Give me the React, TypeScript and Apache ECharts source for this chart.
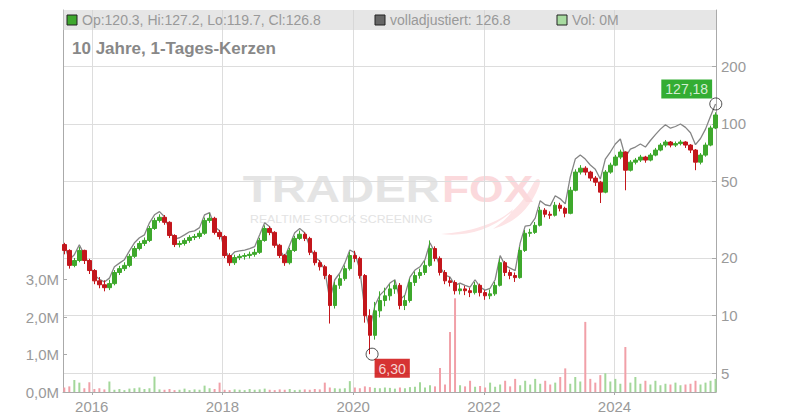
import React, { useEffect, useRef } from "react";
import * as echarts from "echarts";

// time axis: one candle per 28 days, starting mid 2015
const START_YEAR = 2015.58;
const STEP_YEARS = 28 / 365.25;
const X_MIN = 2015.56;
const X_MAX = 2025.553;

// [open, close, low, high]
const candles: number[][] = [
  [23.5, 21.9, 20.9, 24.0], [21.9, 18.3, 17.6, 22.2], [18.3, 19.4, 17.9, 20.0], [19.4, 21.9, 19.0, 22.8],
  [21.9, 19.4, 18.6, 22.1], [19.4, 17.2, 16.5, 19.8], [17.2, 15.2, 14.6, 17.5], [15.2, 14.5, 13.9, 15.9],
  [14.5, 14.0, 13.4, 15.3], [14.0, 14.7, 13.6, 15.4], [14.7, 16.8, 14.4, 17.3], [16.8, 17.6, 16.3, 18.2],
  [17.6, 18.3, 17.1, 19.0], [18.3, 20.4, 17.9, 21.0], [20.4, 22.4, 20.0, 23.1], [22.4, 23.8, 21.9, 24.5],
  [23.8, 24.7, 23.1, 25.6], [24.7, 28.5, 24.2, 29.4], [28.5, 31.4, 28.0, 32.4], [31.4, 32.6, 30.6, 33.8],
  [32.6, 30.7, 29.8, 33.5], [30.7, 26.2, 25.4, 31.1], [26.2, 23.5, 22.8, 26.6], [23.5, 23.8, 22.7, 24.6],
  [23.8, 24.7, 23.2, 25.4], [24.7, 25.6, 24.0, 26.3], [25.6, 25.9, 24.8, 26.7], [25.9, 26.9, 25.2, 27.8],
  [26.9, 31.4, 26.4, 32.5], [31.4, 32.2, 30.5, 34.2], [32.2, 27.2, 26.5, 32.8], [27.2, 25.9, 25.0, 28.0],
  [25.9, 20.6, 20.0, 26.3], [20.6, 18.9, 18.2, 21.2], [18.9, 20.1, 18.4, 20.8], [20.1, 20.4, 19.5, 21.0],
  [20.4, 20.6, 19.6, 21.2], [20.6, 20.9, 19.9, 21.6], [20.9, 21.4, 20.3, 22.3], [21.4, 24.7, 21.0, 25.5],
  [24.7, 28.5, 24.3, 29.6], [28.5, 27.2, 26.3, 29.2], [27.2, 23.3, 22.6, 27.6], [23.3, 20.6, 20.0, 23.7],
  [20.6, 18.9, 18.2, 21.0], [18.9, 21.9, 18.5, 22.6], [21.9, 25.3, 21.5, 26.1], [25.3, 26.6, 24.8, 27.8],
  [26.6, 25.3, 24.5, 27.2], [25.3, 21.4, 20.7, 25.8], [21.4, 18.9, 18.3, 21.9], [18.9, 18.0, 17.2, 19.5],
  [18.0, 16.2, 15.5, 18.4], [16.2, 11.3, 9.1, 16.5], [11.3, 14.4, 10.9, 15.0], [14.4, 15.6, 13.8, 16.4],
  [15.6, 17.6, 15.2, 18.3], [17.6, 20.6, 17.2, 21.5], [20.6, 19.9, 19.0, 21.8], [19.9, 16.2, 15.6, 20.3],
  [16.2, 10.0, 9.2, 16.5], [10.0, 7.9, 6.3, 10.8], [7.9, 10.6, 7.5, 11.8], [10.6, 12.0, 9.8, 13.4],
  [12.0, 12.7, 11.2, 14.0], [12.7, 13.8, 12.0, 14.6], [13.8, 14.4, 13.0, 15.3], [14.4, 11.3, 10.8, 14.8],
  [11.3, 12.0, 10.7, 12.8], [12.0, 14.9, 11.7, 15.6], [14.9, 16.2, 14.3, 17.0], [16.2, 16.8, 15.6, 17.6],
  [16.8, 18.3, 16.3, 19.3], [18.3, 22.4, 18.0, 24.7], [22.4, 19.9, 19.2, 23.0], [19.9, 16.8, 16.2, 20.4],
  [16.8, 15.2, 14.6, 17.3], [15.2, 14.9, 14.2, 15.9], [14.9, 13.5, 12.9, 15.3], [13.5, 13.8, 12.9, 14.6],
  [13.8, 13.5, 12.8, 14.3], [13.5, 13.2, 12.5, 14.0], [13.2, 14.4, 12.9, 15.0], [14.4, 13.2, 12.6, 14.7],
  [13.2, 12.7, 12.1, 13.6], [12.7, 13.0, 12.2, 13.7], [13.0, 14.4, 12.7, 15.0], [14.4, 18.9, 14.2, 19.9],
  [18.9, 16.8, 16.1, 19.3], [16.8, 16.2, 15.5, 17.4], [16.2, 15.8, 15.0, 16.8], [15.8, 21.9, 15.6, 22.8],
  [21.9, 26.9, 21.5, 28.0], [26.9, 27.2, 25.8, 28.4], [27.2, 29.6, 26.7, 30.8], [29.6, 35.5, 29.2, 37.0],
  [35.5, 33.8, 32.6, 36.4], [33.8, 33.4, 32.0, 35.0], [33.4, 37.7, 32.9, 39.2], [37.7, 36.3, 35.0, 38.8],
  [36.3, 34.2, 32.6, 37.0], [34.2, 45.1, 33.8, 47.0], [45.1, 56.1, 44.5, 58.0], [56.1, 58.8, 54.5, 61.0],
  [58.8, 56.1, 54.0, 60.2], [56.1, 52.2, 50.4, 57.0], [52.2, 49.7, 47.5, 53.5], [49.7, 44.1, 38.7, 50.5],
  [44.1, 56.1, 43.5, 57.5], [56.1, 61.0, 55.0, 62.8], [61.0, 67.2, 60.2, 69.0], [67.2, 71.4, 65.5, 73.5],
  [71.4, 57.4, 45.1, 72.0], [57.4, 63.2, 56.5, 64.8], [63.2, 64.8, 61.5, 66.5], [64.8, 67.2, 63.3, 69.0],
  [67.2, 64.8, 62.8, 68.2], [64.8, 68.8, 63.8, 70.5], [68.8, 73.1, 67.8, 75.0], [73.1, 77.6, 72.0, 79.5],
  [77.6, 80.5, 75.6, 82.5], [80.5, 77.6, 75.5, 81.5], [77.6, 79.0, 75.8, 81.0], [79.0, 80.5, 77.3, 82.6],
  [80.5, 77.6, 75.0, 81.3], [77.6, 73.1, 70.5, 78.5], [73.1, 63.2, 57.4, 74.0], [63.2, 68.8, 61.5, 70.5],
  [68.8, 77.6, 67.5, 80.0], [77.6, 95.3, 76.5, 98.0], [95.3, 111.4, 94.0, 115.0],
];

// fully adjusted close ("volladjustiert")
const adjusted: number[] = [
  23.4, 19.6, 20.8, 23.4, 20.8, 18.4, 16.3, 15.5, 15.0, 15.7,
  18.0, 18.8, 19.6, 21.8, 24.0, 25.5, 26.4, 30.5, 33.6, 34.9,
  32.8, 28.0, 25.1, 25.5, 26.4, 27.4, 27.7, 28.8, 33.6, 34.5,
  29.1, 27.7, 22.0, 20.2, 21.5, 21.8, 22.0, 22.4, 22.9, 26.4,
  30.5, 29.1, 24.9, 22.0, 20.2, 23.4, 27.1, 28.5, 27.1, 22.9,
  20.2, 19.3, 17.3, 12.1, 15.4, 16.7, 18.8, 22.0, 21.3, 17.3,
  10.7, 8.5, 11.3, 12.8, 13.6, 14.8, 15.4, 12.1, 12.8, 15.9,
  17.3, 18.0, 19.6, 24.0, 21.3, 18.0, 16.3, 15.9, 14.4, 14.8,
  14.4, 14.1, 15.4, 14.1, 13.6, 13.9, 15.4, 20.6, 18.3, 17.7,
  17.2, 23.9, 29.3, 29.6, 32.3, 39.8, 37.9, 37.4, 42.2, 40.7,
  38.3, 52.8, 65.6, 68.8, 65.6, 61.1, 58.1, 51.6, 65.6, 71.4,
  78.6, 83.5, 67.2, 73.9, 75.8, 78.6, 75.8, 82.0, 88.0, 94.0,
  99.0, 95.0, 97.0, 100.0, 96.0, 90.0, 78.0, 84.0, 94.0, 109.6,
  127.2,
];

// volume in millions
const volumeM: number[] = [
  0.12, 0.15, 0.32, 0.25, 0.1, 0.26, 0.08, 0.1, 0.07, 0.28,
  0.06, 0.08, 0.05, 0.09, 0.1, 0.12, 0.08, 0.1, 0.41, 0.07,
  0.06, 0.08, 0.05, 0.06, 0.09, 0.05, 0.07, 0.06, 0.17, 0.1,
  0.08, 0.25, 0.06, 0.05, 0.07, 0.06, 0.05, 0.08, 0.06, 0.07,
  0.09, 0.06, 0.05, 0.07, 0.06, 0.08, 0.05, 0.06, 0.07, 0.06,
  0.08, 0.07, 0.25, 0.12, 0.1, 0.09, 0.1, 0.29, 0.12, 0.1,
  0.15, 0.13, 0.11, 0.1, 0.12, 0.11, 0.09, 0.12, 0.1, 0.13,
  0.14, 0.26, 0.12, 0.18, 0.15, 0.64, 0.2, 1.6, 2.5, 0.18,
  0.15, 0.3, 0.14, 0.16, 0.12, 0.25, 0.14, 0.2, 0.3, 0.15,
  0.35, 0.18, 0.3, 0.2, 0.35, 0.22, 0.3, 0.2, 0.25, 0.4,
  0.63, 0.22, 0.4, 0.28, 1.87, 0.35, 0.25, 0.45, 0.5, 0.28,
  0.35, 0.22, 1.2, 0.25, 0.4, 0.22, 0.3, 0.2, 0.3, 0.18,
  0.22, 0.2, 0.25, 0.18, 0.2, 0.22, 0.3, 0.2, 0.25, 0.3,
  0.35,
];

const yearTicks = [2016, 2018, 2020, 2022, 2024];
const priceTicks = [5, 10, 20, 50, 100, 200];
const volumeTicks = [0, 1e6, 2e6, 3e6];
const lowPoint = { t: 2020.29, v: 6.3, label: "6,30" };
const highPoint = { t: 2025.55, v: 127.18, label: "127,18" };
const legendTexts = [
  "Op:120.3, Hi:127.2, Lo:119.7, Cl:126.8",
  "volladjustiert: 126.8",
  "Vol: 0M",
];
const titleText = "10 Jahre, 1-Tages-Kerzen";

const UP = "#3ea82c";
const DOWN = "#c3161c";
const FONT = "'Liberation Sans', Arial, sans-serif";

let shapeRegistered = false;
function registerShapes() {
  if (shapeRegistered) return;
  shapeRegistered = true;
  echarts.graphic.registerShape(
    "foxtail",
    echarts.graphic.extendPath(
      "M0,58 C30,62 70,50 92,8 C96,0 101,2 98,10 C88,36 70,48 52,53 C64,45 70,38 72,33 C58,47 30,56 0,58 Z",
      {}
    )
  );
}

export default function App() {
  const ref = useRef<HTMLDivElement>(null);

  useEffect(() => {
    document.body.style.margin = "0";
    if (!ref.current) return;
    registerShapes();
    const chart = echarts.init(ref.current, undefined, { renderer: "svg" });

    const times = candles.map((_, i) => START_YEAR + i * STEP_YEARS);
    const candleData = candles.map((c, i) => [times[i], c[0], c[1], c[2], c[3]]);
    const adjData = adjusted.map((v, i) => [times[i], v]);
    const volData = volumeM.map((v, i) => ({
      value: [times[i], v * 1e6],
      itemStyle: { color: candles[i][1] >= candles[i][0] ? "#a3d79a" : "#f1a0a8" },
    }));

    const axisColor = "#aaaaaa";
    const labelColor = "#9a9a9a";

    chart.setOption({
      animation: false,
      backgroundColor: "#ffffff",
      textStyle: { fontFamily: FONT },
      grid: { left: 63, right: 84, top: 10, bottom: 28, containLabel: false },
      xAxis: {
        type: "value",
        min: X_MIN,
        max: X_MAX,
        axisLine: { show: true, lineStyle: { color: axisColor } },
        axisTick: { show: true, length: 3, customValues: yearTicks, lineStyle: { color: axisColor } },
        axisLabel: {
          customValues: yearTicks,
          formatter: (v: number) => String(Math.round(v)),
          color: labelColor,
          fontSize: 15,
          margin: 7,
          fontFamily: FONT,
        },
        splitLine: { show: true, lineStyle: { color: "#dddddd", width: 1 } },
      },
      yAxis: [
        {
          type: "value",
          position: "left",
          min: 0,
          max: 10.19e6,
          axisLine: { show: true, lineStyle: { color: axisColor } },
          axisTick: { show: true, inside: true, length: 4, customValues: volumeTicks, lineStyle: { color: axisColor } },
          axisLabel: {
            customValues: volumeTicks,
            formatter: (v: number) => (v / 1e6).toFixed(1).replace(".", ",") + "M",
            color: labelColor,
            fontSize: 15,
            margin: 4,
            fontFamily: FONT,
          },
          splitLine: { show: false },
        },
        {
          type: "log",
          logBase: 10,
          position: "right",
          min: 4,
          max: 393,
          axisLine: { show: true, lineStyle: { color: axisColor } },
          axisTick: { show: true, inside: true, length: 4, customValues: priceTicks, lineStyle: { color: axisColor } },
          axisLabel: {
            customValues: priceTicks,
            formatter: (v: number) => String(Math.round(v)),
            color: labelColor,
            fontSize: 15,
            margin: 5,
            fontFamily: FONT,
          },
          splitLine: { show: true, lineStyle: { color: "#dddddd", width: 1 } },
        },
      ],
      graphic: [
        // watermark
        {
          type: "text",
          x: 440,
          y: 189,
          scaleX: 1.28,
          z: 0,
          silent: true,
          style: {
            text: "TRADER",
            fill: "#e4e4e4",
            font: `bold 37px ${FONT}`,
            textAlign: "right",
            textVerticalAlign: "middle",
          },
        },
        {
          type: "foxtail",
          x: 441,
          y: 176,
          scaleX: 1,
          scaleY: 1,
          z: 0,
          silent: true,
          style: { fill: "#fde3e5" },
        },
        {
          type: "text",
          x: 442,
          y: 189,
          scaleX: 1.2,
          z: 0,
          silent: true,
          style: {
            text: "FOX",
            fill: "#fbd9dc",
            font: `bold 37px ${FONT}`,
            textAlign: "left",
            textVerticalAlign: "middle",
          },
        },
        {
          type: "text",
          x: 250,
          y: 219,
          scaleX: 1.12,
          z: 0,
          silent: true,
          style: {
            text: "REALTIME STOCK SCREENING",
            fill: "#e3e3e3",
            font: `11px ${FONT}`,
            textAlign: "left",
            textVerticalAlign: "middle",
          },
        },
        // legend band
        {
          type: "rect",
          z: 100,
          silent: true,
          shape: { x: 63, y: 10, width: 653, height: 20 },
          style: { fill: "rgba(210,210,210,0.55)" },
        },
        {
          type: "rect",
          z: 101,
          shape: { x: 67, y: 15, width: 10, height: 10 },
          style: { fill: "#3fa82e", stroke: "#222", lineWidth: 1 },
        },
        {
          type: "text",
          z: 101,
          x: 82,
          y: 20,
          style: { text: legendTexts[0], fill: "#999999", font: `14px ${FONT}`, textVerticalAlign: "middle" },
        },
        {
          type: "rect",
          z: 101,
          shape: { x: 375, y: 15, width: 10, height: 10 },
          style: { fill: "#666666", stroke: "#222", lineWidth: 1 },
        },
        {
          type: "text",
          z: 101,
          x: 390,
          y: 20,
          style: { text: legendTexts[1], fill: "#999999", font: `14px ${FONT}`, textVerticalAlign: "middle" },
        },
        {
          type: "rect",
          z: 101,
          shape: { x: 557, y: 15, width: 10, height: 10 },
          style: { fill: "#a8dba0", stroke: "#222", lineWidth: 1 },
        },
        {
          type: "text",
          z: 101,
          x: 572,
          y: 20,
          style: { text: legendTexts[2], fill: "#999999", font: `14px ${FONT}`, textVerticalAlign: "middle" },
        },
        {
          type: "text",
          z: 101,
          x: 72,
          y: 48,
          style: { text: titleText, fill: "#888888", font: `bold 17px ${FONT}`, textVerticalAlign: "middle" },
        },
      ],
      series: [
        {
          type: "bar",
          name: "Vol",
          xAxisIndex: 0,
          yAxisIndex: 0,
          barWidth: 2,
          data: volData,
          z: 1,
        },
        {
          type: "line",
          name: "volladjustiert",
          xAxisIndex: 0,
          yAxisIndex: 1,
          data: adjData,
          showSymbol: false,
          lineStyle: { color: "#858585", width: 1.3 },
          z: 2,
        },
        {
          type: "candlestick",
          name: "Kurs",
          xAxisIndex: 0,
          yAxisIndex: 1,
          data: candleData,
          barWidth: 4,
          itemStyle: {
            color: UP,
            color0: DOWN,
            borderColor: UP,
            borderColor0: DOWN,
            borderWidth: 1,
          },
          z: 3,
        },
        {
          type: "scatter",
          xAxisIndex: 0,
          yAxisIndex: 1,
          symbol: "circle",
          symbolSize: 12,
          itemStyle: { color: "rgba(255,255,255,0)", borderColor: "#222", borderWidth: 1 },
          label: {
            show: true,
            color: "#ffffff",
            fontSize: 14,
            fontFamily: FONT,
            padding: [3, 4, 2, 4],
          },
          z: 10,
          data: [
            {
              value: [lowPoint.t, lowPoint.v],
              label: { formatter: lowPoint.label, backgroundColor: "#cc0000", position: [9, 11] },
            },
            {
              value: [highPoint.t, highPoint.v],
              label: { formatter: highPoint.label, backgroundColor: "#009900", position: [-48, -18] },
            },
          ],
        },
      ],
    });

    return () => chart.dispose();
  }, []);

  return <div ref={ref} style={{ width: 800, height: 420 }} />;
}
